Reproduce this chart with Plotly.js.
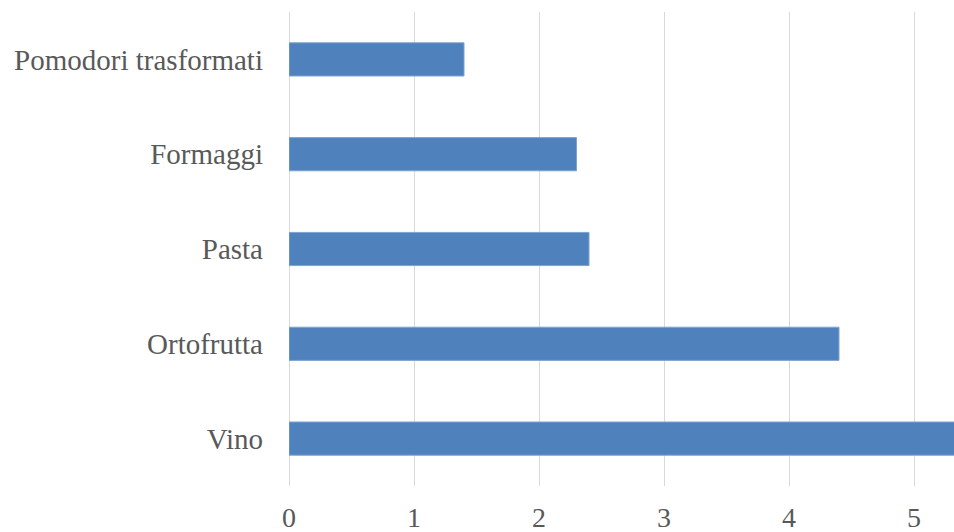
<!DOCTYPE html>
<html>
<head>
<meta charset="utf-8">
<script src="https://cdn.plot.ly/plotly-3.0.1.min.js"></script>
<style>html,body{margin:0;padding:0;background:#fff}#chart{width:954px;height:532px}</style>
</head>
<body>
<div id="chart"></div>
<script>
const categories = ['Vino', 'Ortofrutta', 'Pasta', 'Formaggi', 'Pomodori trasformati'];
const values = [5.4, 4.4, 2.4, 2.3, 1.4];
const xTicks = [0, 1, 2, 3, 4, 5];

const trace = {
  type: 'bar',
  orientation: 'h',
  y: categories,
  x: values,
  width: 0.35,
  marker: { color: '#4F81BD', line: { color: '#7ea3d1', width: 1 } },
  hoverinfo: 'none'
};

const font = { family: '"Liberation Serif", "DejaVu Serif", serif', size: 29, color: '#595959' };
const xfont = { family: '"Liberation Serif", "DejaVu Serif", serif', size: 28, color: '#595959' };

const layout = {
  width: 954, height: 532,
  margin: { l: 289, r: 0, t: 12, b: 46, pad: 0 },
  paper_bgcolor: '#ffffff', plot_bgcolor: '#ffffff',
  showlegend: false,
  font: font,
  xaxis: {
    range: [0, 5.32],
    tickvals: xTicks,
    ticktext: xTicks.map(String),
    showgrid: true, gridcolor: '#d9d9d9', gridwidth: 1,
    zeroline: true, zerolinecolor: '#d9d9d9', zerolinewidth: 1,
    showline: false, ticks: '',
    ticklabelstandoff: 12,
    tickfont: xfont,
    fixedrange: true
  },
  yaxis: {
    type: 'category',
    categoryorder: 'array', categoryarray: categories,
    showgrid: false, zeroline: false, showline: false, ticks: '',
    ticklabelstandoff: 25,
    tickfont: font,
    fixedrange: true
  }
};

Plotly.newPlot('chart', [trace], layout, { displayModeBar: false, staticPlot: true });
</script>
</body>
</html>
